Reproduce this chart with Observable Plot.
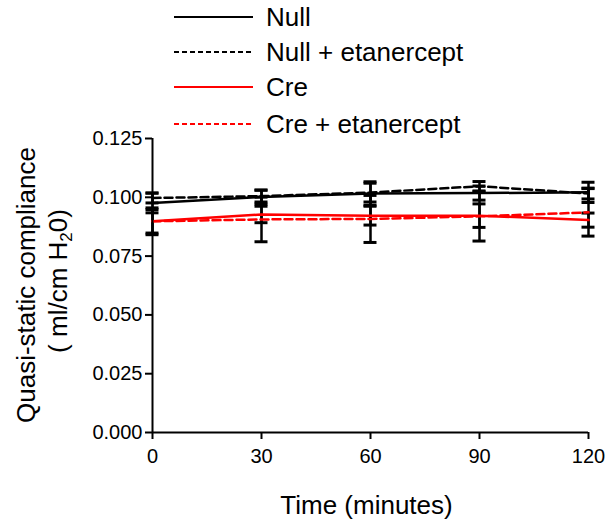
<!DOCTYPE html>
<html><head><meta charset="utf-8">
<script src="https://cdn.jsdelivr.net/npm/d3@7"></script>
<script src="https://cdn.jsdelivr.net/npm/@observablehq/plot@0.6"></script>
<style>
body{margin:0;background:#fff;font-family:"Liberation Sans",Arial,sans-serif;}
#wrap{position:relative;width:608px;height:524px;background:#fff;}
#legend{position:absolute;left:0;top:0;z-index:2;}
#legend svg,#chart svg{display:block;}
</style></head><body>
<div id="wrap"><div id="chart"></div><div id="legend"></div></div>
<script>
// ---- data ----
const times = [0, 30, 60, 90, 120];
const xTicks = [0, 30, 60, 90, 120];
const yTicks = [0, 0.025, 0.05, 0.075, 0.1, 0.125];
const seriesNames = ["Null", "Null + etanercept", "Cre", "Cre + etanercept"];
const nullMean  = [0.0976, 0.1001, 0.1016, 0.1018, 0.1021];
const nullErr   = [0.0042, 0.0030, 0.0050, 0.0030, 0.0043];
const nullEMean = [0.0997, 0.1005, 0.1020, 0.1047, 0.1016];
const nullEErr  = [0.0021, 0.0025, 0.0040, 0.0020, 0.0023];
const creMean   = [0.0898, 0.0927, 0.0922, 0.0922, 0.0903];
const creErr    = [0.0050, 0.0035, 0.0040, 0.0050, 0.0030];
const creEMean  = [0.0898, 0.0906, 0.0908, 0.0919, 0.0936];
const creEErr   = [0.0057, 0.0095, 0.0100, 0.0105, 0.0101];

const series = [
  {name: seriesNames[0], mean: nullMean,  err: nullErr,  color: "#000000", dash: null},
  {name: seriesNames[1], mean: nullEMean, err: nullEErr, color: "#000000", dash: "8,4"},
  {name: seriesNames[2], mean: creMean,   err: creErr,   color: "#ff0000", dash: null},
  {name: seriesNames[3], mean: creEMean,  err: creEErr,  color: "#ff0000", dash: "8,4"}
];
const rows = series.flatMap(s => times.map((t, i) => ({
  t, name: s.name, mean: s.mean[i], lo: s.mean[i] - s.err[i], hi: s.mean[i] + s.err[i]
})));

const FONT = "'Liberation Sans', Arial, sans-serif";

// ---- chart ----
const capHalf = 6.5 * 120 / 436;
const plot = Plot.plot({
  width: 608, height: 524,
  marginTop: 138, marginBottom: 92, marginLeft: 152, marginRight: 20,
  style: {background: "#fff", color: "#000", fontFamily: FONT},
  x: {domain: [0, 120]},
  y: {domain: [0, 0.125]},
  marks: [
    Plot.ruleX(rows, {x: "t", y1: "lo", y2: "hi", stroke: "#000", strokeWidth: 2.5}),
    Plot.ruleY(rows, {y: "lo", x1: d => d.t - capHalf, x2: d => d.t + capHalf, stroke: "#000", strokeWidth: 3}),
    Plot.ruleY(rows, {y: "hi", x1: d => d.t - capHalf, x2: d => d.t + capHalf, stroke: "#000", strokeWidth: 3}),
    ...series.map(s => Plot.line(rows.filter(r => r.name === s.name), {
      x: "t", y: "mean", stroke: s.color, strokeWidth: 2.5, strokeDasharray: s.dash
    })),
    Plot.ruleX([0], {stroke: "#000", strokeWidth: 2}),
    Plot.ruleY([0], {stroke: "#000", strokeWidth: 2}),
    Plot.axisX({ticks: xTicks, tickSize: 7, tickPadding: 9, strokeWidth: 2, fontSize: 20, label: null}),
    Plot.axisY({ticks: yTicks, tickFormat: d3.format(".3f"), tickSize: 7, tickPadding: 3, strokeWidth: 2, fontSize: 20, label: null}),
    Plot.text(["Time (minutes)"], {frameAnchor: "bottom", dy: 73, dx: -4, lineAnchor: "middle", fontSize: 26, fill: "#000"})
  ]
});
document.getElementById("chart").appendChild(plot);

// y-axis title (two lines, with subscript)
const svg = d3.select(plot);
svg.append("text").attr("transform", "translate(35,285) rotate(-90)")
  .attr("text-anchor", "middle").attr("font-family", FONT).attr("font-size", 26).attr("fill", "#000")
  .text("Quasi-static compliance");
const t2 = svg.append("text").attr("transform", "translate(67,281) rotate(-90)")
  .attr("text-anchor", "middle").attr("font-family", FONT).attr("font-size", 26).attr("fill", "#000");
t2.append("tspan").text("( ml/cm H");
t2.append("tspan").attr("font-size", 17).attr("dy", 5).text("2");
t2.append("tspan").attr("dy", -5).text("0)");

// ---- legend (overlaid at the top) ----
const legendRowsY = [17, 52, 87, 124];
const leg = d3.select("#legend").append("svg").attr("width", 608).attr("height", 140);
series.forEach((s, i) => {
  const y = legendRowsY[i];
  leg.append("line").attr("x1", 174).attr("x2", 253).attr("y1", y).attr("y2", y)
    .attr("stroke", s.color).attr("stroke-width", 2)
    .attr("stroke-dasharray", s.dash ? "5,3" : null);
  leg.append("text").attr("x", 266).attr("y", y).attr("dy", "0.36em")
    .attr("font-family", FONT).attr("font-size", 26).attr("fill", "#000").text(s.name);
});
</script>
</body></html>
